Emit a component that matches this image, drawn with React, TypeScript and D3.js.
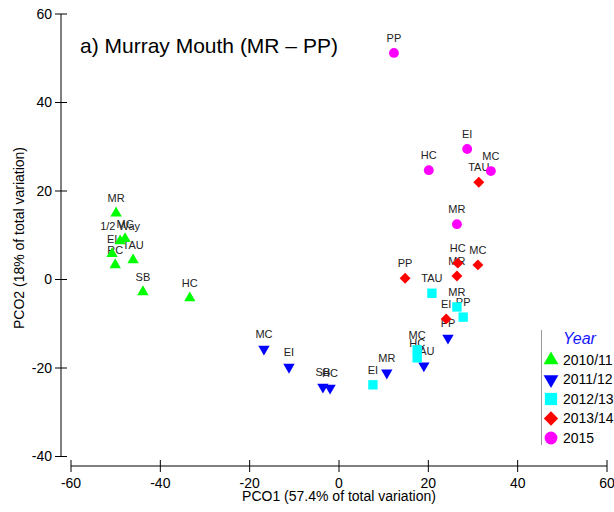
import React from "react";
import * as d3 from "d3";

// Sites and PCO scores per sampling year
const years = ["2010/11", "2011/12", "2012/13", "2013/14", "2015"];

const sites1011 = ["MR", "1/2 Way", "MC", "EI", "RC", "TAU", "SB", "HC"];
const pco1_1011 = [-49.9, -49.0, -47.9, -50.8, -50.1, -46.1, -43.9, -33.4];
const pco2_1011 = [15.0, 8.7, 9.2, 5.8, 3.3, 4.4, -2.8, -4.2];

const sites1112 = ["MC", "EI", "SB", "HC", "MR", "TAU", "PP"];
const pco1_1112 = [-16.8, -11.2, -3.6, -2.0, 10.7, 19.0, 24.4];
const pco2_1112 = [-15.7, -19.8, -24.3, -24.5, -21.1, -19.5, -13.2];

const sites1213 = ["EI", "MC", "HC", "TAU", "MR", "PP"];
const pco1_1213 = [7.6, 17.5, 17.5, 20.8, 26.4, 27.8];
const pco2_1213 = [-23.8, -15.9, -17.7, -3.1, -6.2, -8.5];

const sites1314 = ["PP", "TAU", "HC", "MR", "MC", "EI"];
const pco1_1314 = [14.8, 31.3, 26.6, 26.4, 31.1, 24.0];
const pco2_1314 = [0.3, 22.0, 3.7, 0.8, 3.3, -8.9];

const sites15 = ["PP", "EI", "HC", "MC", "MR"];
const pco1_15 = [12.3, 28.7, 20.1, 34.0, 26.4];
const pco2_15 = [51.2, 29.5, 24.7, 24.5, 12.5];

const xTicks = [-60, -40, -20, 0, 20, 40, 60];
const yTicks = [-40, -20, 0, 20, 40, 60];

type Shape = "up" | "down" | "square" | "diamond" | "circle";

const seriesStyle: { color: string; shape: Shape }[] = [
  { color: "#00ff00", shape: "up" },
  { color: "#0000ff", shape: "down" },
  { color: "#00ffff", shape: "square" },
  { color: "#ff0000", shape: "diamond" },
  { color: "#ff00ff", shape: "circle" },
];

const seriesData = [
  { sites: sites1011, x: pco1_1011, y: pco2_1011 },
  { sites: sites1112, x: pco1_1112, y: pco2_1112 },
  { sites: sites1213, x: pco1_1213, y: pco2_1213 },
  { sites: sites1314, x: pco1_1314, y: pco2_1314 },
  { sites: sites15, x: pco1_15, y: pco2_15 },
];

const FONT = "'Liberation Sans', Arial, sans-serif";

function symbolPath(shape: Shape, scale: number): { d: string; rotate: number } {
  const s = scale;
  switch (shape) {
    case "up":
      return { d: d3.symbol(d3.symbolTriangle, 56 * s)()!, rotate: 0 };
    case "down":
      return { d: d3.symbol(d3.symbolTriangle, 56 * s)()!, rotate: 180 };
    case "square":
      return { d: d3.symbol(d3.symbolSquare, 88 * s)()!, rotate: 0 };
    case "diamond":
      return { d: d3.symbol(d3.symbolSquare, 60 * s)()!, rotate: 45 };
    default:
      return { d: d3.symbol(d3.symbolCircle, 76 * s)()!, rotate: 0 };
  }
}

export default function App() {
  const width = 614;
  const height = 512;

  const x = d3.scaleLinear().domain([-60, 60]).range([71, 607]);
  const y = d3.scaleLinear().domain([-40, 60]).range([456.5, 14]);

  const yAxisX = 61;
  const xAxisY = 466;

  const points = seriesData.flatMap((s, i) =>
    s.sites.map((site, j) => ({
      site,
      px: x(s.x[j]),
      py: y(s.y[j]),
      series: i,
    }))
  );

  return (
    <svg
      width={width}
      height={height}
      style={{ position: "absolute", left: 0, top: 0, background: "#fff" }}
      fontFamily={FONT}
    >
      <rect width={width} height={height} fill="#fff" />

      {/* y axis */}
      <line x1={yAxisX} x2={yAxisX} y1={y(60)} y2={y(-40)} stroke="#000" strokeWidth={1} />
      {yTicks.map((t) => (
        <g key={`yt${t}`}>
          <line x1={yAxisX - 6} x2={yAxisX + 6} y1={y(t)} y2={y(t)} stroke="#000" />
          <text x={yAxisX - 9} y={y(t)} dy="0.35em" textAnchor="end" fontSize={14} fill="#000">
            {t}
          </text>
        </g>
      ))}

      {/* x axis */}
      <line x1={x(-60)} x2={x(60)} y1={xAxisY} y2={xAxisY} stroke="#000" strokeWidth={1} />
      {xTicks.map((t) => (
        <g key={`xt${t}`}>
          <line x1={x(t)} x2={x(t)} y1={xAxisY - 6} y2={xAxisY + 6} stroke="#000" />
          <text x={x(t)} y={xAxisY + 22} textAnchor="middle" fontSize={14} fill="#000">
            {t}
          </text>
        </g>
      ))}

      <text x={339} y={501} textAnchor="middle" fontSize={14} fill="#000">
        PCO1 (57.4% of total variation)
      </text>
      <text
        transform="translate(24,238) rotate(-90)"
        textAnchor="middle"
        fontSize={14}
        fill="#000"
      >
        PCO2 (18% of total variation)
      </text>

      <text x={80} y={53} fontSize={21} fill="#000">
        a) Murray Mouth (MR – PP)
      </text>

      {/* site labels */}
      {points.map((p, k) => (
        <text
          key={`lab${k}`}
          x={p.px}
          y={p.py - 11}
          textAnchor="middle"
          fontSize={11}
          fill="#222"
        >
          {p.site}
        </text>
      ))}

      {/* markers */}
      {points.map((p, k) => {
        const st = seriesStyle[p.series];
        const sp = symbolPath(st.shape, 1);
        return (
          <path
            key={`pt${k}`}
            d={sp.d}
            transform={`translate(${p.px},${p.py}) rotate(${sp.rotate})`}
            fill={st.color}
          />
        );
      })}

      {/* legend */}
      <line x1={541.5} x2={541.5} y1={330} y2={445} stroke="#999" strokeWidth={1} />
      <text x={563} y={344} fontSize={16} fontStyle="italic" fill="#1515ff">
        Year
      </text>
      {years.map((yr, i) => {
        const st = seriesStyle[i];
        const sp = symbolPath(st.shape, 1.7);
        const cy = 360 + i * 19.5;
        return (
          <g key={`lg${yr}`}>
            <path
              d={sp.d}
              transform={`translate(551,${cy}) rotate(${sp.rotate})`}
              fill={st.color}
            />
            <text x={563} y={cy} dy="0.35em" fontSize={14} fill="#000">
              {yr}
            </text>
          </g>
        );
      })}
    </svg>
  );
}
